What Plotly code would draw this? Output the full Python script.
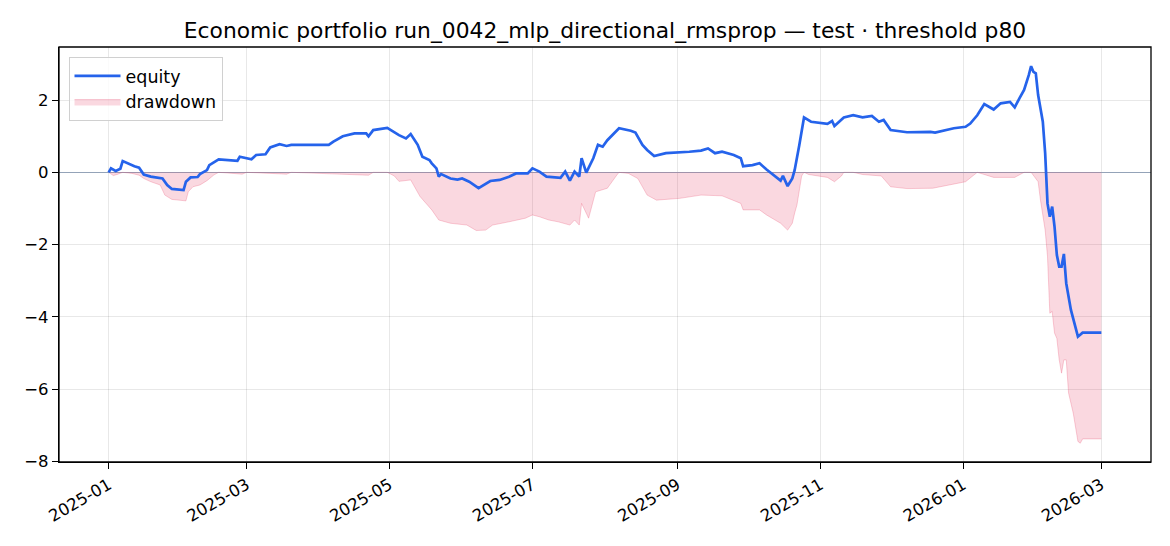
import plotly.graph_objects as go

# equity curve (date, value)
eq_dates = [
    "2025-01-01", "2025-01-02", "2025-01-04", "2025-01-06", "2025-01-07", "2025-01-10",
    "2025-01-12", "2025-01-14", "2025-01-16", "2025-01-19", "2025-01-24", "2025-01-26",
    "2025-01-28", "2025-02-02", "2025-02-03", "2025-02-05", "2025-02-08", "2025-02-09",
    "2025-02-12", "2025-02-13", "2025-02-17", "2025-02-25", "2025-02-26", "2025-03-03",
    "2025-03-05", "2025-03-09", "2025-03-11", "2025-03-15", "2025-03-18", "2025-03-20",
    "2025-04-05", "2025-04-07", "2025-04-11", "2025-04-16", "2025-04-21", "2025-04-22",
    "2025-04-24", "2025-04-30", "2025-05-02", "2025-05-05", "2025-05-08", "2025-05-10",
    "2025-05-13", "2025-05-15", "2025-05-18", "2025-05-19", "2025-05-21", "2025-05-22",
    "2025-05-23", "2025-05-27", "2025-05-30", "2025-06-01", "2025-06-04", "2025-06-08",
    "2025-06-13", "2025-06-17", "2025-06-21", "2025-06-24", "2025-06-29", "2025-07-01",
    "2025-07-04", "2025-07-07", "2025-07-13", "2025-07-15", "2025-07-17", "2025-07-19",
    "2025-07-21", "2025-07-22", "2025-07-24", "2025-07-27", "2025-07-29", "2025-07-31",
    "2025-08-02", "2025-08-07", "2025-08-12", "2025-08-14", "2025-08-17", "2025-08-19",
    "2025-08-22", "2025-08-27", "2025-09-06", "2025-09-11", "2025-09-14", "2025-09-17",
    "2025-09-20", "2025-09-25", "2025-09-28", "2025-09-29", "2025-10-03", "2025-10-06",
    "2025-10-09", "2025-10-11", "2025-10-15", "2025-10-16", "2025-10-18", "2025-10-20",
    "2025-10-21", "2025-10-23", "2025-10-25", "2025-10-28", "2025-11-04", "2025-11-06",
    "2025-11-07", "2025-11-09", "2025-11-11", "2025-11-15", "2025-11-19", "2025-11-23",
    "2025-11-26", "2025-11-28", "2025-12-01", "2025-12-08", "2025-12-18", "2025-12-20",
    "2025-12-28", "2026-01-02", "2026-01-04", "2026-01-07", "2026-01-10", "2026-01-14",
    "2026-01-17", "2026-01-21", "2026-01-23", "2026-01-25", "2026-01-27", "2026-01-29",
    "2026-01-30", "2026-01-31", "2026-02-01", "2026-02-02", "2026-02-03", "2026-02-04",
    "2026-02-05", "2026-02-06", "2026-02-07", "2026-02-08", "2026-02-09", "2026-02-10",
    "2026-02-11", "2026-02-12", "2026-02-13", "2026-02-14", "2026-02-16", "2026-02-19",
    "2026-02-21", "2026-03-01",
]
equity = [
    0.00, 0.11, 0.04, 0.10, 0.31, 0.22,
    0.17, 0.13, -0.06, -0.12, -0.17, -0.35,
    -0.46, -0.49, -0.26, -0.14, -0.13, -0.05,
    0.06, 0.20, 0.36, 0.32, 0.43, 0.36,
    0.48, 0.50, 0.69, 0.78, 0.73, 0.76,
    0.76, 0.85, 1.00, 1.08, 1.08, 1.00,
    1.17, 1.23, 1.15, 1.03, 0.94, 1.06,
    0.76, 0.43, 0.34, 0.25, 0.11, -0.12,
    -0.05, -0.17, -0.20, -0.17, -0.26, -0.44,
    -0.24, -0.21, -0.12, -0.03, -0.03, 0.11,
    0.02, -0.12, -0.15, 0.02, -0.23, 0.02,
    -0.12, 0.39, -0.01, 0.39, 0.76, 0.71,
    0.89, 1.22, 1.15, 1.10, 0.76, 0.62,
    0.45, 0.53, 0.57, 0.60, 0.66, 0.53,
    0.57, 0.48, 0.39, 0.17, 0.20, 0.25,
    0.08, -0.03, -0.23, -0.10, -0.38, -0.17,
    0.06, 0.76, 1.52, 1.40, 1.34, 1.42,
    1.28, 1.40, 1.52, 1.58, 1.52, 1.56,
    1.40, 1.45, 1.17, 1.11, 1.12, 1.10,
    1.22, 1.26, 1.35, 1.58, 1.89, 1.74,
    1.91, 1.95, 1.80, 2.05, 2.28, 2.69,
    2.94, 2.78, 2.74, 2.14, 1.77, 1.40,
    0.53, -0.86, -1.23, -0.95, -1.50, -2.29,
    -2.61, -2.61, -2.26, -3.07, -3.81, -4.55,
    -4.44, -4.44,
]

# drawdown (date, value)
dd_dates = [
    "2025-01-01", "2025-01-03", "2025-01-05", "2025-01-07", "2025-01-11", "2025-01-14",
    "2025-01-16", "2025-01-19", "2025-01-23", "2025-01-25", "2025-01-28", "2025-02-03",
    "2025-02-04", "2025-02-06", "2025-02-09", "2025-02-12", "2025-02-15", "2025-02-17",
    "2025-02-27", "2025-03-01", "2025-03-18", "2025-03-20", "2025-04-22", "2025-04-24",
    "2025-04-30", "2025-05-03", "2025-05-05", "2025-05-10", "2025-05-14", "2025-05-19",
    "2025-05-22", "2025-05-27", "2025-06-03", "2025-06-07", "2025-06-11", "2025-06-14",
    "2025-06-21", "2025-06-28", "2025-07-01", "2025-07-04", "2025-07-08", "2025-07-12",
    "2025-07-17", "2025-07-19", "2025-07-21", "2025-07-22", "2025-07-25", "2025-07-28",
    "2025-07-30", "2025-08-02", "2025-08-06", "2025-08-07", "2025-08-11", "2025-08-15",
    "2025-08-19", "2025-08-23", "2025-09-02", "2025-09-11", "2025-09-20", "2025-09-28",
    "2025-09-29", "2025-10-06", "2025-10-09", "2025-10-15", "2025-10-18", "2025-10-20",
    "2025-10-21", "2025-10-22", "2025-10-24", "2025-10-25", "2025-10-27", "2025-11-04",
    "2025-11-07", "2025-11-10", "2025-11-11", "2025-11-15", "2025-11-19", "2025-11-27",
    "2025-12-01", "2025-12-08", "2025-12-19", "2025-12-28", "2026-01-02", "2026-01-07",
    "2026-01-14", "2026-01-23", "2026-01-25", "2026-01-27", "2026-01-30", "2026-02-02",
    "2026-02-03", "2026-02-04", "2026-02-05", "2026-02-06", "2026-02-07", "2026-02-08",
    "2026-02-09", "2026-02-10", "2026-02-11", "2026-02-12", "2026-02-13", "2026-02-14",
    "2026-02-15", "2026-02-17", "2026-02-19", "2026-02-20", "2026-02-21", "2026-03-01",
]
drawdown = [
    0.00, -0.09, -0.05, 0.00, -0.03, -0.08,
    -0.17, -0.26, -0.35, -0.63, -0.75, -0.79,
    -0.54, -0.40, -0.35, -0.23, -0.07, 0.00,
    -0.05, 0.00, -0.05, 0.00, -0.08, 0.00,
    0.00, -0.10, -0.25, -0.21, -0.67, -1.04,
    -1.32, -1.41, -1.46, -1.61, -1.60, -1.46,
    -1.37, -1.27, -1.18, -1.23, -1.32, -1.37,
    -1.46, -1.32, -1.46, -0.86, -1.27, -0.54,
    -0.50, -0.44, -0.08, 0.00, -0.03, -0.17,
    -0.63, -0.77, -0.72, -0.63, -0.65, -0.86,
    -1.04, -1.04, -1.18, -1.41, -1.60, -1.41,
    -1.13, -0.90, -0.10, 0.00, -0.06, -0.14,
    -0.26, -0.10, 0.00, 0.00, -0.06, -0.10,
    -0.40, -0.45, -0.44, -0.33, -0.26, 0.00,
    -0.14, -0.14, -0.06, 0.00, 0.00, -0.26,
    -0.77, -1.13, -1.60, -2.33, -3.90, -3.85,
    -4.45, -4.60, -5.19, -5.56, -5.19, -5.19,
    -6.11, -6.67, -7.45, -7.50, -7.38, -7.38,
]

title = "Economic portfolio run_0042_mlp_directional_rmsprop — test · threshold p80"

fig = go.Figure()

##回撤填色
fig.add_trace(go.Scatter(
    x=dd_dates, y=drawdown,
    name="drawdown",
    mode="lines",
    fill="tozeroy",
    fillcolor="rgba(232,62,100,0.2)",
    line=dict(color="rgba(232,62,100,0.25)", width=1),
    legendrank=2,
))

##權益曲線
fig.add_trace(go.Scatter(
    x=eq_dates, y=equity,
    name="equity",
    mode="lines",
    line=dict(color="#2563eb", width=2.7),
    legendrank=1,
))

axis_common = dict(
    showline=True, linecolor="black", linewidth=1.3,
    ticks="outside", ticklen=6, tickwidth=1.3, tickcolor="black",
    showgrid=True, gridcolor="rgba(0,0,0,0.09)", gridwidth=1,
    tickfont=dict(size=16.5, color="black"),
    automargin=False,
)

# the page body adds an 8px offset, so margins are shifted by that much
fig.update_layout(
    width=1170, height=546,
    margin=dict(l=50.5, r=26.5, t=39, b=92),
    paper_bgcolor="white", plot_bgcolor="white",
    font=dict(family="DejaVu Sans", color="black"),
    title=dict(text=title, x=0.5, xref="paper", y=1 - 22 / 546, yref="container",
               xanchor="center", yanchor="middle", font=dict(size=21.8, color="black")),
    showlegend=True,
    legend=dict(x=0.0087, y=0.976, xanchor="left", yanchor="top",
                bgcolor="rgba(255,255,255,0.8)", bordercolor="#d0d0d0", borderwidth=1,
                font=dict(size=17.5, color="black"), itemwidth=46, tracegroupgap=0),
    # frame around the plot area
    shapes=[dict(type="rect", xref="paper", yref="paper", x0=0, y0=0, x1=1, y1=1,
                 line=dict(color="black", width=1.3), layer="above")],
)
fig.update_xaxes(
    **axis_common,
    type="date",
    range=["2024-12-10 19:00", "2026-03-22 05:00"],
    tick0="2025-01-01", dtick="M2", tickformat="%Y-%m", tickangle=-30,
    zeroline=False,
)
fig.update_yaxes(
    **axis_common,
    range=[-8.02, 3.47],
    tick0=0, dtick=2,
    zeroline=True, zerolinecolor="#94a3b8", zerolinewidth=1.4,
)

fig.write_html("out.html")
